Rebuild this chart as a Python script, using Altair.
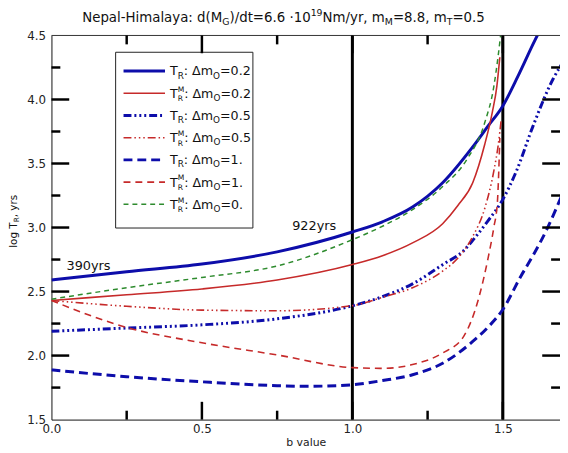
import altair as alt
import pandas as pd

FONT = "DejaVu Sans"
BLUE = "#0d0daa"
RED = "#c62a2a"
GREEN = "#2e8b2e"
INK = "#111111"

# ---------------- data ----------------
b_tr_02 = [0, 0.25, 0.5, 0.75, 1.0, 1.1, 1.2, 1.3, 1.4, 1.45, 1.5, 1.55, 1.6, 1.625]
v_tr_02 = [2.59, 2.655, 2.715, 2.81, 2.965, 3.045, 3.16, 3.35, 3.63, 3.79, 3.95, 4.18, 4.43, 4.55]

b_trm_02 = [0, 0.25, 0.5, 0.75, 1.0, 1.1, 1.2, 1.3, 1.35, 1.4, 1.44, 1.465, 1.48, 1.49]
v_trm_02 = [2.43, 2.475, 2.52, 2.59, 2.711, 2.78, 2.88, 3.03, 3.17, 3.35, 3.65, 3.9, 4.1, 4.33]

b_tr_05 = [0, 0.25, 0.5, 0.75, 1.0, 1.1, 1.2, 1.3, 1.37, 1.4, 1.45, 1.5, 1.545, 1.6, 1.667, 1.694]
v_tr_05 = [2.19, 2.215, 2.24, 2.287, 2.389, 2.46, 2.56, 2.71, 2.82, 2.9, 3.05, 3.22, 3.44, 3.79, 4.16, 4.27]

b_trm_05 = [0, 0.25, 0.5, 0.75, 1.0, 1.1, 1.2, 1.3, 1.35, 1.4, 1.44, 1.47, 1.485, 1.495]
v_trm_05 = [2.43, 2.385, 2.355, 2.35, 2.39, 2.455, 2.53, 2.66, 2.76, 2.93, 3.15, 3.44, 3.65, 3.85]

b_tr_1 = [0, 0.25, 0.5, 0.75, 0.85, 1.0, 1.1, 1.2, 1.3, 1.4, 1.45, 1.5, 1.56, 1.6, 1.645, 1.694]
v_tr_1 = [1.888, 1.835, 1.795, 1.765, 1.76, 1.772, 1.805, 1.85, 1.94, 2.11, 2.22, 2.36, 2.62, 2.78, 2.98, 3.24]

b_trm_1 = [0, 0.25, 0.5, 0.75, 1.0, 1.1, 1.2, 1.3, 1.37, 1.42, 1.45, 1.47, 1.482, 1.49]
v_trm_1 = [2.43, 2.22, 2.10, 2.005, 1.906, 1.90, 1.93, 2.02, 2.15, 2.45, 2.75, 3.0, 3.2, 3.7]

b_trm_0 = [0, 0.25, 0.5, 0.75, 1.0, 1.1, 1.2, 1.3, 1.38, 1.44, 1.47, 1.485, 1.495]
v_trm_0 = [2.44, 2.53, 2.61, 2.70, 2.905, 3.01, 3.14, 3.32, 3.53, 3.82, 4.1, 4.35, 4.55]

b_vlines = [1.0, 1.5]
annot_text = ["390yrs", "922yrs"]
annot_b = [0.05, 0.80]
annot_v = [2.70, 3.01]

x_major = [0.5, 1.0, 1.5]
x_minor = [0.25, 0.75, 1.25]
y_major = [2.0, 2.5, 3.0, 3.5, 4.0]
y_minor = [1.75, 2.25, 2.75, 3.25, 3.75, 4.25]
x_labels = [0.0, 0.5, 1.0, 1.5]
y_labels = [1.5, 2.0, 2.5, 3.0, 3.5, 4.0, 4.5]

# ---------------- layout ----------------
W_PLOT = 515
H_PLOT = 389
X_MAX = 1.69

xs = alt.Scale(domain=[0, X_MAX], nice=False, zero=False)
ys = alt.Scale(domain=[1.5, 4.5], nice=False, zero=False)
X_AXIS = alt.Axis(values=x_labels, format=".1f", ticks=False, grid=False,
                  domainColor="#111", labelFont=FONT, labelFontSize=12,
                  labelColor="#222", labelPadding=4, labelFlush=False,
                  title="b value", titleFont=FONT, titleFontSize=11,
                  titleFontWeight="normal", titleColor="#222", titlePadding=2)
Y_AXIS = alt.Axis(values=y_labels, format=".1f", ticks=False, grid=False,
                  domainColor="#111", labelFont=FONT, labelFontSize=12,
                  labelColor="#222", labelPadding=6, labelFlush=False, title="")

def X(field):
    return alt.X(field, type="quantitative", scale=xs, axis=X_AXIS)

def Y(field):
    return alt.Y(field, type="quantitative", scale=ys, axis=Y_AXIS)

layers = []

styles = [
    (b_tr_02, v_tr_02, BLUE, 3.0, None),
    (b_trm_02, v_trm_02, RED, 1.6, None),
    (b_tr_05, v_tr_05, BLUE, 3.0, [8, 3, 2, 3, 2, 3, 2, 3]),
    (b_trm_05, v_trm_05, RED, 1.6, [8, 3, 1.5, 3, 1.5, 3, 1.5, 3]),
    (b_tr_1, v_tr_1, BLUE, 3.0, [9, 5]),
    (b_trm_1, v_trm_1, RED, 1.6, [7, 5]),
    (b_trm_0, v_trm_0, GREEN, 1.5, [5, 4]),
]

# vertical reference lines
layers.append(alt.Chart(pd.DataFrame({"b": b_vlines})).mark_rule(color="black", strokeWidth=3)
              .encode(x=X("b")))

for b, v, col, sw, dash in styles:
    kw = dict(color=col, strokeWidth=sw, clip=True, interpolate="monotone")
    if dash:
        kw["strokeDash"] = dash
    layers.append(alt.Chart(pd.DataFrame({"b": b, "v": v})).mark_line(**kw)
                  .encode(x=X("b"), y=Y("v")))

# top frame line
one = pd.DataFrame({"a": [0]})
layers.append(alt.Chart(one).mark_rule(color="#333", strokeWidth=1).encode(
    x=alt.value(0), x2=alt.value(W_PLOT), y=alt.value(0)))

# annotations
layers.append(alt.Chart(pd.DataFrame({"b": annot_b, "v": annot_v, "t": annot_text}))
              .mark_text(align="left", baseline="middle", font=FONT, fontSize=13, color=INK)
              .encode(x=X("b"), y=Y("v"), text="t:N"))

# ---------------- rich text helpers ----------------
ADV = {' ': 651, '-': 739, ':': 690, '(': 799, ')': 799, '/': 690, '=': 1716, '.': 651,
       ',': 651, '·': 651, 'N': 1532, 'H': 1540, 'M': 1767, 'G': 1589, 'T': 1251,
       'R': 1423, 'O': 1612, 'Δ': 1401, 'a': 1255, 'b': 1300, 'd': 1300, 'e': 1260,
       'g': 1300, 'i': 569, 'l': 569, 'm': 1995, 'o': 1253, 'p': 1300, 'r': 842,
       's': 1067, 't': 803, 'u': 1298, 'v': 1212, 'y': 1212}
for _d in "0123456789":
    ADV[_d] = 1303

def tw(s, size):
    return sum(ADV.get(c, 1250) for c in s) / 2048.0 * size

def txt(s, x, y, size, angle=0):
    return alt.Chart(pd.DataFrame({"t": [s]})).mark_text(
        align="left", baseline="alphabetic", font=FONT, fontSize=size,
        color=INK, angle=angle).encode(text="t:N", x=alt.value(x), y=alt.value(y))

def rich(pieces, x0, y0, base, ratio=0.7):
    out = []
    x = x0
    small = base * ratio
    for t, kind in pieces:
        if kind == "n":
            out.append(txt(t, x, y0, base)); x += tw(t, base)
        elif kind == "sub":
            out.append(txt(t, x, y0 + base * 0.25, small)); x += tw(t, small)
        elif kind == "sup":
            out.append(txt(t, x, y0 - base * 0.42, small)); x += tw(t, small)
        else:  # stacked sub + sup
            sb, sp = t
            s2 = base * 0.6
            out.append(txt(sb, x, y0 + base * 0.28, s2))
            out.append(txt(sp, x, y0 - base * 0.48, s2))
            x += max(tw(sb, s2), tw(sp, s2))
    return out

def rich_width(pieces, base, ratio=0.7):
    small = base * ratio
    w = 0
    for t, kind in pieces:
        if kind == "n":
            w += tw(t, base)
        elif kind in ("sub", "sup"):
            w += tw(t, small)
        else:
            w += max(tw(t[0], base * 0.6), tw(t[1], base * 0.6))
    return w

# title
title_pieces = [("Nepal-Himalaya: d(M", "n"), ("G", "sub"), (")/dt=6.6 ·10", "n"),
                ("19", "sup"), ("Nm/yr, m", "n"), ("M", "sub"), ("=8.8, m", "n"),
                ("T", "sub"), ("=0.5", "n")]
TB = 13.5
tx0 = 235 - rich_width(title_pieces, TB) / 2
layers += rich(title_pieces, tx0, -14, TB)

# y-axis title (rotated)
YB = 10.5
yx = -35
yy = 215
w1 = tw("log T", YB)
w2 = tw("R", YB * 0.7)
layers.append(txt("log T", yx, yy, YB, angle=270))
layers.append(txt("R", yx + YB * 0.25, yy - w1, YB * 0.7, angle=270))
layers.append(txt(", yrs", yx, yy - w1 - w2, YB, angle=270))

# legend
LX0, LX1, LY0, LY1 = 65, 204, 17, 195
layers.append(alt.Chart(one).mark_rect(fill="white", stroke="#222", strokeWidth=1).encode(
    x=alt.value(LX0), x2=alt.value(LX1), y=alt.value(LY0), y2=alt.value(LY1)))

leg_vals = ["0.2", "0.2", "0.5", "0.5", "1.", "1.", "0."]
leg_m = [False, True, False, True, False, True, True]
LB = 12.8
for i, (b, v, col, sw, dash) in enumerate(styles):
    yc = 36 + i * 22.5
    kw = dict(color=col, strokeWidth=sw)
    if dash:
        kw["strokeDash"] = dash
    layers.append(alt.Chart(one).mark_rule(**kw).encode(
        x=alt.value(73), x2=alt.value(115), y=alt.value(yc)))
    rpart = (("R", "M"), "subsup") if leg_m[i] else ("R", "sub")
    pieces = [("T", "n"), rpart, (": Δm", "n"), ("O", "sub"), ("=" + leg_vals[i], "n")]
    layers += rich(pieces, 120, yc + 4.5, LB)

# inward ticks (drawn last)
TICK_COL = "#000000"
TICK_W = 2.5

def xticks(vals, length):
    df = pd.DataFrame({"b": vals, "b2": vals})
    bot = alt.Chart(df).mark_rule(color=TICK_COL, strokeWidth=TICK_W).encode(
        x=X("b"), x2="b2:Q", y=alt.value(H_PLOT), y2=alt.value(H_PLOT - length))
    top = alt.Chart(df).mark_rule(color=TICK_COL, strokeWidth=TICK_W).encode(
        x=X("b"), x2="b2:Q", y=alt.value(0), y2=alt.value(length))
    return [bot, top]

def yticks(vals, length):
    df = pd.DataFrame({"v": vals, "v2": vals})
    lef = alt.Chart(df).mark_rule(color=TICK_COL, strokeWidth=TICK_W).encode(
        y=Y("v"), y2="v2:Q", x=alt.value(0), x2=alt.value(length))
    rig = alt.Chart(df).mark_rule(color=TICK_COL, strokeWidth=TICK_W).encode(
        y=Y("v"), y2="v2:Q", x=alt.value(W_PLOT), x2=alt.value(W_PLOT - length))
    return [lef, rig]

layers += xticks(x_major, 18) + xticks(x_minor, 9) + yticks(y_major, 18) + yticks(y_minor, 9)

chart = alt.layer(*layers).properties(
    width=W_PLOT, height=H_PLOT,
    padding={"left": 44, "top": 25, "right": 0, "bottom": 30},
    autosize=alt.AutoSizeParams(type="none"),
    background="white",
).configure_view(strokeWidth=0)

chart.save("out.html", embed_options={"renderer": "svg", "actions": False})
